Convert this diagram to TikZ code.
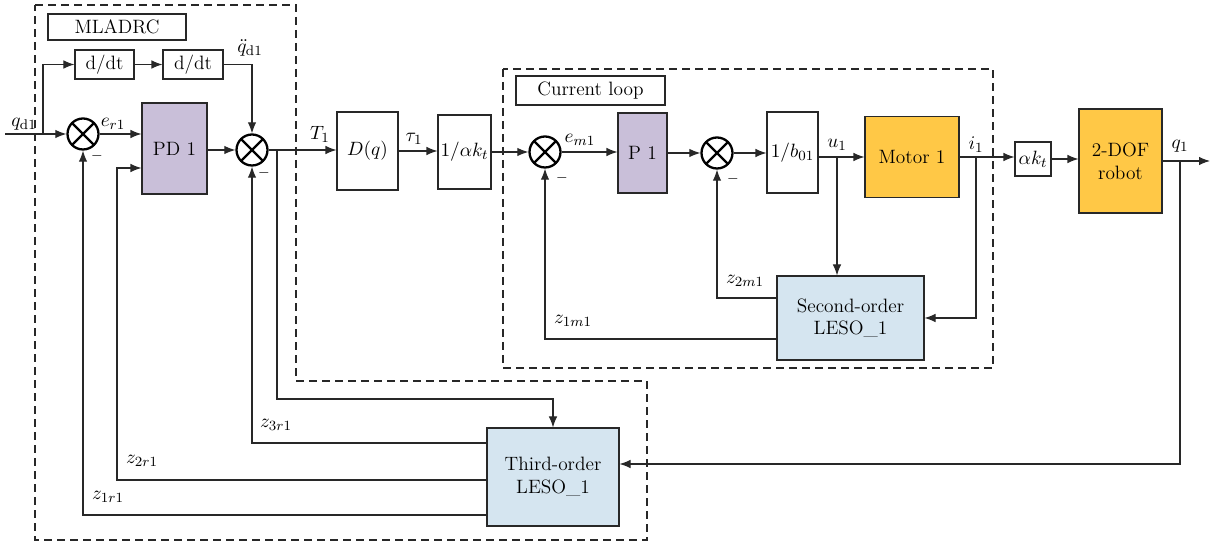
\documentclass[tikz,border=0pt]{standalone}
\usepackage{tikz}
\usetikzlibrary{arrows.meta}

\definecolor{pdpurple}{RGB}{201,191,217}
\definecolor{motororange}{RGB}{255,200,70}
\definecolor{esoblue}{RGB}{213,229,240}
\definecolor{linegray}{RGB}{40,40,40}

\begin{document}
\begin{tikzpicture}[x=0.2mm, y=-0.2mm,
      font=\fontsize{11}{13}\selectfont,
      block/.style ={draw=linegray, line width=0.6pt, inner sep=1pt, align=center},
      ctrl/.style ={block, fill=pdpurple},
      plant/.style ={block, fill=motororange},
      observer/.style ={block, fill=esoblue},
      tag/.style ={draw=linegray, line width=0.6pt, inner sep=2pt},
      junction/.style ={circle, draw=black, line width=1.3pt, minimum size=6.2mm, inner sep=0pt,
         path picture={\draw[line width=1.3pt] (path picture bounding box.north west) -- (path picture bounding box.south east)
            (path picture bounding box.north east) -- (path picture bounding box.south west);}},
      signal/.style ={draw=linegray, line width=0.6pt, -{Latex[length=2.2mm,width=1.7mm]}},
      wire/.style ={draw=linegray, line width=0.6pt},
      frame/.style ={draw=linegray, line width=0.6pt, dash pattern=on 1.6mm off 1mm},
      minus/.style ={inner sep=0pt, font=\footnotesize}]
   \useasboundingbox (0,0) rectangle (1215,544);

   \draw[frame] (35,5) -- (296,5) -- (296,381) -- (647,381) -- (647,540) -- (35,540) -- cycle;
   \draw[frame] (503,69) rectangle (993,368);

   \node[tag, minimum width=27.6mm, minimum height=5.2mm] (mladrc) at (117,27) {MLADRC};
   \node[tag, minimum width=29.8mm, minimum height=5.8mm] (curloop) at (590.5,90.5) {Current loop};

   \coordinate (qin) at (5,134);
   \node[junction] (sum1) at (83,134) {};
   \node[block, minimum width=11.8mm, minimum height=5.8mm] (ddt1) at (104.5,64.5) {d/dt};
   \node[block, minimum width=12mm, minimum height=5.8mm] (ddt2) at (193,64.5) {d/dt};
   \node[ctrl, minimum width=13mm, minimum height=18.2mm] (pd1) at (174.5,148.5) {PD 1};
   \node[junction] (sum2) at (252,150) {};
   \node[block, minimum width=12.2mm, minimum height=15.6mm] (dq) at (367.5,151) {$D(q)$};
   \node[block, minimum width=10.6mm, minimum height=14.8mm] (akinv) at (464.5,152) {$1/\alpha k_t$};
   \node[junction] (sum3) at (545,152) {};
   \node[ctrl, minimum width=9.8mm, minimum height=16mm] (p1) at (642.5,153) {P 1};
   \node[junction] (sum4) at (717,153) {};
   \node[block, minimum width=10.2mm, minimum height=16.2mm] (binv) at (792.5,152.5) {$1/b_{01}$};
   \node[plant, minimum width=18.8mm, minimum height=16.2mm] (motor) at (912,157) {Motor 1};
   \node[block, minimum width=7.2mm, minimum height=6.8mm] (ak) at (1033,159) {$\alpha k_t$};
   \node[plant, minimum width=16.6mm, minimum height=20.8mm] (robot) at (1120.5,161) {2-DOF\\robot};
   \coordinate (qout) at (1210,161);
   \node[observer, minimum width=29.4mm, minimum height=16.8mm] (leso2) at (850.5,318) {Second-order\\LESO\_1};
   \node[observer, minimum width=26.4mm, minimum height=19.6mm] (leso3) at (553,477) {Third-order\\LESO\_1};

   \coordinate (br0) at (43,134);
   \coordinate (br1) at (277,150);
   \coordinate (t3) at (277,399);
   \coordinate (bu) at (837,157);
   \coordinate (bi) at (976,157);
   \coordinate (bq) at (1180,161);
   \coordinate (z3y) at (0,443);
   \coordinate (z2y) at (0,480);
   \coordinate (z1y) at (0,515);
   \coordinate (z2x) at (117,168);
   \coordinate (z2my) at (0,298);
   \coordinate (z1my) at (0,339);
   \coordinate (in3y) at (0,464);

   \draw[wire] (qin) -- (br0);
   \draw[signal] (br0) -- (sum1);
   \draw[signal] (br0) |- (ddt1);
   \draw[signal] (ddt1) -- (ddt2);
   \draw[signal] (ddt2) -| (sum2);
   \draw[signal] (sum1) -- (sum1 -| pd1.west);
   \draw[signal] (pd1.east |- sum2) -- (sum2);
   \draw[wire] (sum2) -- (br1);
   \draw[signal] (br1) -- (br1 -| dq.west);
   \draw[signal] (dq) -- (dq -| akinv.west);
   \draw[signal] (akinv) -- (sum3);
   \draw[signal] (sum3) -- (sum3 -| p1.west);
   \draw[signal] (p1.east |- sum4) -- (sum4);
   \draw[signal] (sum4) -- (sum4 -| binv.west);
   \draw[wire] (binv.east |- bu) -- (bu);
   \draw[signal] (bu) -- (bu -| motor.west);
   \draw[signal] (bu) -- (bu |- leso2.north);
   \draw[wire] (motor.east |- bi) -- (bi);
   \draw[signal] (bi) -- (bi -| ak.west);
   \draw[signal] (bi) |- (leso2.east);
   \draw[signal] (ak) -- (ak -| robot.west);
   \draw[wire] (robot.east |- bq) -- (bq);
   \draw[signal] (bq) -- (qout);
   \draw[signal] (bq) |- (leso3.east |- in3y);
   \draw[signal] (br1) -- (t3) -| (leso3.north);
   \draw[signal] (leso3.west |- z3y) -| (sum2.south);
   \draw[signal] (leso3.west |- z2y) -| (z2x) -- (pd1.west |- z2x);
   \draw[signal] (leso3.west |- z1y) -| (sum1.south);
   \draw[signal] (leso2.west |- z2my) -| (sum4.south);
   \draw[signal] (leso2.west |- z1my) -| (sum3.south);

   \node (lqd) at (24,124) {$q_{\mathrm{d}1}$};
   \node (ler) at (113,124) {$e_{r1}$};
   \node (lqdd) at (250,48) {$\ddot{q}_{\mathrm{d}1}$};
   \node (lT) at (320,134) {$T_1$};
   \node (ltau) at (414,139) {$\tau_1$};
   \node (lem) at (580,140) {$e_{m1}$};
   \node (lu) at (837,145) {$u_1$};
   \node (li) at (976,145) {$i_1$};
   \node (lq) at (1180,146) {$q_1$};
   \node (lz2m) at (745,281) {$z_{2m1}$};
   \node (lz1m) at (573,321) {$z_{1m1}$};
   \node (lz3r) at (276,425) {$z_{3r1}$};
   \node (lz2r) at (142,461) {$z_{2r1}$};
   \node (lz1r) at (108,497) {$z_{1r1}$};

   \node[minus] (m1) at (97,156) {$-$};
   \node[minus] (m2) at (264,173) {$-$};
   \node[minus] (m3) at (562,178) {$-$};
   \node[minus] (m4) at (733,179) {$-$};
\end{tikzpicture}
\end{document}
